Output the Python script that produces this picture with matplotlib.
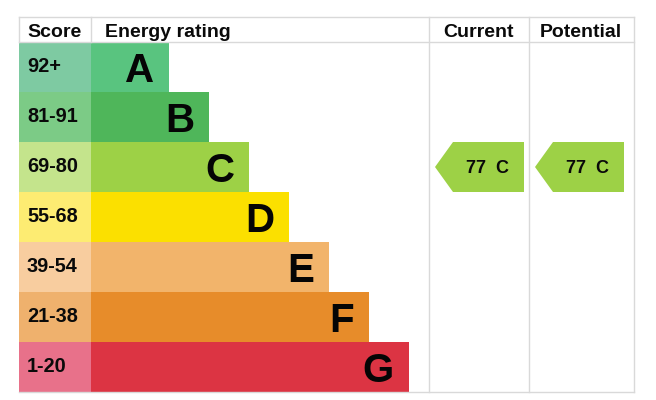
import matplotlib
matplotlib.use("Agg")
import matplotlib.pyplot as plt
from matplotlib.patches import Rectangle, Polygon

bands = ["A", "B", "C", "D", "E", "F", "G"]
score_ranges = ["92+", "81-91", "69-80", "55-68", "39-54", "21-38", "1-20"]
bar_lengths = [78, 118, 158, 198, 238, 278, 318]
bar_colors = ["#59c47f", "#4fb65a", "#9dd146", "#fbe000", "#f2b46b", "#e78c2a", "#dc3443"]
score_colors = ["#7ecaa2", "#7ccb86", "#c4e48c", "#fdec72", "#f8cd9f", "#efb16d", "#e8718a"]
header_labels = ["Score", "Energy rating", "Current", "Potential"]
current_rating = 77
current_band = "C"
potential_rating = 77
potential_band = "C"

FONT = "Liberation Sans"
W, H = 656, 400
fig = plt.figure(figsize=(W / 100, H / 100), dpi=100)
ax = fig.add_axes([0, 0, 1, 1])
ax.set_xlim(0, W)
ax.set_ylim(H, 0)
ax.axis("off")

left = 19
score_w = 72
bar_x = left + score_w
cur_x0, cur_x1 = 429, 529
pot_x1 = 634
top = 17
head_h = 25
row_h = 50
grid = "#d9d9d9"
ink = "#0a0a0a"

y0 = top + head_h
for i, b in enumerate(bands):
    y = y0 + i * row_h
    ax.add_patch(Rectangle((left, y), score_w, row_h, facecolor=score_colors[i], edgecolor="none"))
    ax.add_patch(Rectangle((bar_x, y), bar_lengths[i], row_h, facecolor=bar_colors[i], edgecolor="none"))
    ax.text(left + 8, y + 30.5, score_ranges[i], fontsize=14.3, fontweight="bold",
            family=FONT, ha="left", va="baseline", color=ink)
    ax.text(bar_x + bar_lengths[i] - 15, y + 40.5, b, fontsize=29, fontweight="bold",
            family=FONT, ha="right", va="baseline", color="#050505")

bottom = y0 + len(bands) * row_h

# grid lines
lw = 1.0
ax.plot([left, pot_x1], [top, top], color=grid, lw=lw)
ax.plot([left, pot_x1], [y0, y0], color=grid, lw=lw)
ax.plot([left, pot_x1], [bottom, bottom], color=grid, lw=lw)
ax.plot([left, left], [top, y0], color=grid, lw=lw)
ax.plot([bar_x, bar_x], [top, y0], color=grid, lw=lw)
for xv in (cur_x0, cur_x1, pot_x1):
    ax.plot([xv, xv], [top, bottom], color=grid, lw=lw)

# headers
hy = top + 20
kw = dict(fontsize=14, fontweight="bold", family=FONT, va="baseline", color=ink)
ax.text(left + 8, hy, header_labels[0], ha="left", **kw)
ax.text(bar_x + 14, hy, header_labels[1], ha="left", **kw)
ax.text((cur_x0 + cur_x1) / 2, hy, header_labels[2], ha="center", **kw)
ax.text((cur_x1 + pot_x1) / 2 - 1, hy, header_labels[3], ha="center", **kw)


def arrow(x_tip, x_right, rating, band):
    idx = bands.index(band)
    y = y0 + idx * row_h
    body = x_tip + 18
    poly = Polygon([(x_tip, y + row_h / 2), (body, y), (x_right, y), (x_right, y + row_h), (body, y + row_h)],
                   closed=True, facecolor=bar_colors[idx], edgecolor="none")
    ax.add_patch(poly)
    ax.text((body + x_right) / 2 - 1, y + 31, f"{rating}  {band}", fontsize=13, fontweight="bold",
            family=FONT, ha="center", va="baseline", color=ink)


arrow(cur_x0 + 6, cur_x1 - 5, current_rating, current_band)
arrow(cur_x1 + 6, pot_x1 - 10, potential_rating, potential_band)

fig.savefig("out.png", dpi=100, facecolor="white")
